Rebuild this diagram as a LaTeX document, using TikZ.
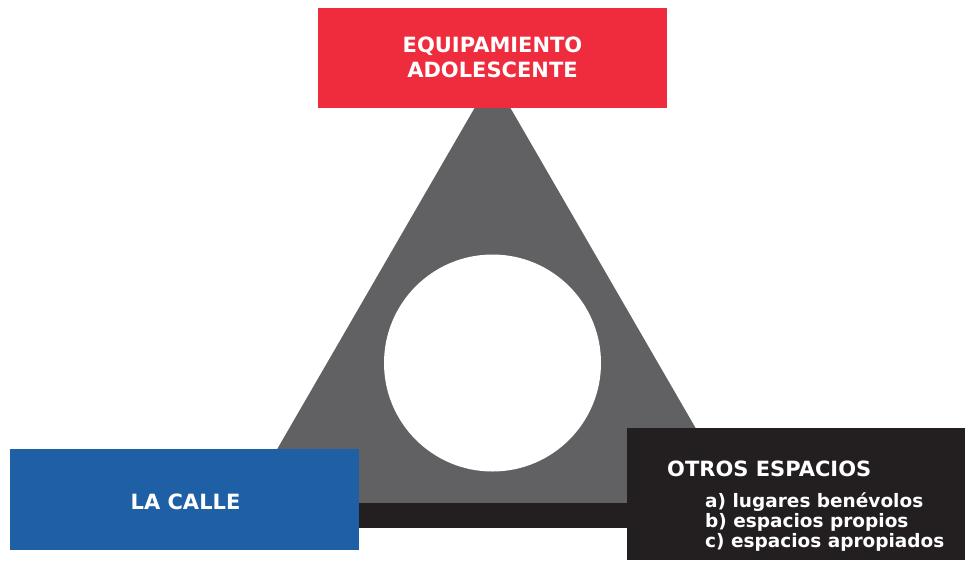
\documentclass[tikz,border=0pt]{standalone}
\usepackage{fontspec}
\setmainfont{DejaVu Sans}
\definecolor{cred}{HTML}{EF2C3E}
\definecolor{cblue}{HTML}{1F5FA5}
\definecolor{cblack}{HTML}{231F20}
\definecolor{cgray}{HTML}{616163}
\begin{document}
\begin{tikzpicture}[x=1pt,y=-1pt,
  box/.style={rectangle,inner sep=0pt,draw=none},
  ttl/.style={inner sep=0pt,text=white,font=\bfseries\fontsize{21}{25}\selectfont,align=center},
  lst/.style={inner sep=0pt,anchor=base west,text=white,font=\bfseries\fontsize{18.5}{20}\selectfont}]
\useasboundingbox (0,0) rectangle (965,560);
\fill[white] (0,0) rectangle (965,560);
% triangle
\coordinate (apex) at (492.5,77);
\coordinate (bl) at (246,503);
\coordinate (br) at (739,503);
\fill[cgray] (apex) -- (bl) -- (br) -- cycle;
% dark bar
\fill[cblack] (300,503) rectangle (700,528);
% circle
\node[circle,fill=white,minimum size=217pt,inner sep=0pt] (hole) at (492.5,363) {};
% boxes
\node[box,fill=cred,minimum width=349pt,minimum height=100pt] (equip) at (492.5,58) {};
\node[ttl,anchor=base] (eq1) at (492.5,52.3) {EQUIPAMIENTO};
\node[ttl,anchor=base] (eq2) at (492.5,77.3) {ADOLESCENTE};
\node[box,fill=cblue,minimum width=349pt,minimum height=101pt] (calle) at (184.5,499.5) {};
\node[ttl,anchor=base] (ctxt) at (185.5,509.3) {LA CALLE};
\node[box,fill=cblack,minimum width=338pt,minimum height=132pt] (otros) at (796,494) {};
\node[ttl,anchor=base west] (otit) at (667,476.7) {OTROS ESPACIOS};
\node[lst] (oa) at (705,507.3) {a) lugares benévolos};
\node[lst] (ob) at (705,527.5) {b) espacios propios};
\node[lst] (oc) at (705,547.7) {c) espacios apropiados};
\end{tikzpicture}
\end{document}
